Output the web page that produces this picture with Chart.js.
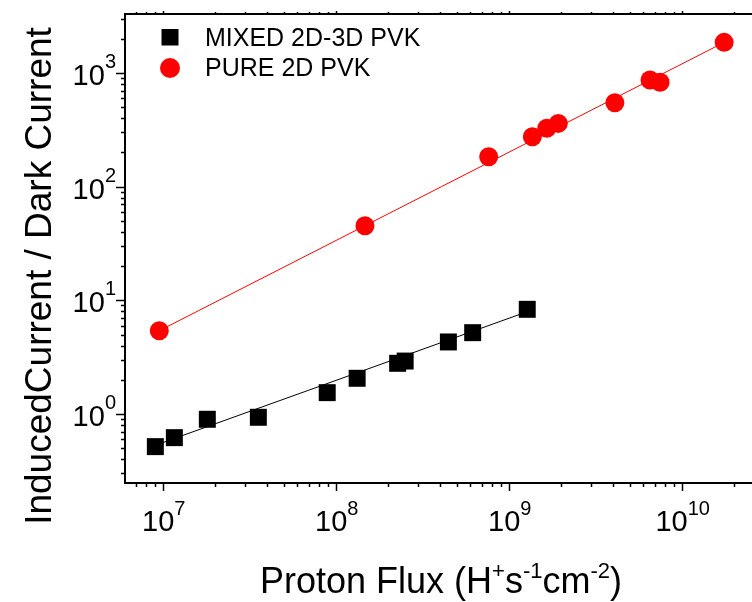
<!DOCTYPE html>
<html><head><meta charset="utf-8">
<script src="https://cdn.jsdelivr.net/npm/chart.js@4/dist/chart.umd.min.js"></script>
<style>html,body{margin:0;padding:0;background:#fff;overflow:hidden}#wrap{width:752px;height:602px;position:relative}</style>
</head><body><div id="wrap"><canvas id="c" width="752" height="602"></canvas></div>
<script>
// ---- data ----
const seriesNames = ['MIXED 2D-3D PVK', 'PURE 2D PVK'];
const mixedFlux  = [9.06e6, 1.167e7, 1.81e7, 3.57e7, 8.93e7, 1.33e8, 2.28e8, 2.52e8, 4.48e8, 6.19e8, 1.28e9];
const mixedRatio = [0.516, 0.619, 0.898, 0.935, 1.54, 2.06, 2.79, 2.92, 4.30, 5.19, 8.33];
const pureFlux   = [9.55e6, 1.476e8, 7.66e8, 1.37e9, 1.66e9, 1.935e9, 4.11e9, 6.56e9, 7.5e9, 1.76e10];
const pureRatio  = [5.4, 45.3, 183, 275, 326, 360, 547, 866, 827, 1858];
const mixedFitFlux  = [9.06e6, 1.28e9];
const mixedFitRatio = [0.53, 7.94];
const pureFitFlux   = [9.55e6, 1.76e10];
const pureFitRatio  = [5.4, 1858];
const xTickExponents = [7, 8, 9, 10];
const yTickExponents = [0, 1, 2, 3];
const xRange = [6.05e6, 2.55e10];
const yRange = [0.247, 3300];
const xTitle = [['Proton Flux (H', false], ['+', true], ['s', false], ['-1', true], ['cm', false], ['-2', true], [')', false]];
const yTitle = 'InducedCurrent / Dark Current';

const FONT = '"Liberation Sans", Arial, sans-serif';
const pts = (xs, ys) => xs.map((x, i) => ({x: x, y: ys[i]}));

function drawRich(ctx, segs, x, y, align, baseSize, supSize, rise) {
  let total = 0;
  const widths = segs.map(s => { ctx.font = (s[1] ? supSize : baseSize) + 'px ' + FONT; const w = ctx.measureText(s[0]).width; total += w; return w; });
  let cx = align === 'center' ? x - total / 2 : align === 'right' ? x - total : x;
  ctx.textAlign = 'left'; ctx.textBaseline = 'alphabetic';
  segs.forEach((s, i) => {
    ctx.font = (s[1] ? supSize : baseSize) + 'px ' + FONT;
    ctx.fillText(s[0], cx, s[1] ? y - rise : y);
    cx += widths[i];
  });
}

const framePlugin = {
  id: 'frame',
  afterDraw(chart) {
    const ctx = chart.ctx, a = chart.chartArea, xs = chart.scales.x, ys = chart.scales.y;
    ctx.save();
    ctx.strokeStyle = '#000'; ctx.fillStyle = '#000';
    ctx.lineWidth = 2;
    ctx.beginPath();
    ctx.moveTo(a.right + 2, a.top); ctx.lineTo(a.left, a.top); ctx.lineTo(a.left, a.bottom); ctx.lineTo(a.right + 2, a.bottom);
    ctx.stroke();
    // ticks
    ctx.lineWidth = 1.5;
    ctx.beginPath();
    for (let e = 6; e <= 10; e++) {
      for (let m = 1; m <= 9; m++) {
        const v = m * Math.pow(10, e);
        if (v < xRange[0] || v > xRange[1]) continue;
        const px = Math.round(xs.getPixelForValue(v)) + 0.5;
        const len = m === 1 ? 8 : 4;
        ctx.moveTo(px, a.bottom); ctx.lineTo(px, a.bottom + len);
        ctx.moveTo(px, a.top); ctx.lineTo(px, a.top - (m === 1 ? 3 : 2));
      }
    }
    for (let e = -1; e <= 3; e++) {
      for (let m = 1; m <= 9; m++) {
        const v = m * Math.pow(10, e);
        if (v < yRange[0] || v > yRange[1]) continue;
        const py = Math.round(ys.getPixelForValue(v)) + 0.5;
        const len = m === 1 ? 9 : 4;
        ctx.moveTo(a.left, py); ctx.lineTo(a.left - len, py);
      }
    }
    ctx.stroke();
    // tick labels
    xTickExponents.forEach(e => {
      const px = xs.getPixelForValue(Math.pow(10, e));
      drawRich(ctx, [['10', false], [String(e), true]], px + 1, a.bottom + 48, 'center', 29, 20, 16);
    });
    yTickExponents.forEach(e => {
      const py = ys.getPixelForValue(Math.pow(10, e));
      drawRich(ctx, [['10', false], [String(e), true]], a.left - 9, py + 12, 'right', 29, 20, 17);
    });
    // axis titles
    drawRich(ctx, xTitle, 441, 593, 'center', 36, 22, 15);
    ctx.save();
    ctx.translate(51, 276);
    ctx.rotate(-Math.PI / 2);
    ctx.font = '37px ' + FONT; ctx.textAlign = 'center'; ctx.textBaseline = 'alphabetic';
    ctx.fillText(yTitle, 0, 0);
    ctx.restore();
    // legend
    ctx.fillStyle = '#000';
    ctx.fillRect(161.5, 29, 17, 16.5);
    ctx.fillStyle = '#ff0000';
    ctx.beginPath(); ctx.arc(170, 68, 10, 0, Math.PI * 2); ctx.fill();
    ctx.fillStyle = '#000';
    ctx.font = '25px ' + FONT; ctx.textAlign = 'left'; ctx.textBaseline = 'alphabetic';
    ctx.fillText(seriesNames[0], 205, 45.5);
    ctx.fillText(seriesNames[1], 205, 76);
    ctx.restore();
  }
};

new Chart(document.getElementById('c'), {
  type: 'scatter',
  data: {
    datasets: [
      {label: seriesNames[0] + ' fit', data: pts(mixedFitFlux, mixedFitRatio), showLine: true, pointRadius: 0, borderColor: '#000', borderWidth: 1, order: 2},
      {label: seriesNames[1] + ' fit', data: pts(pureFitFlux, pureFitRatio), showLine: true, pointRadius: 0, borderColor: '#ff0000', borderWidth: 1, order: 2},
      {label: seriesNames[0], data: pts(mixedFlux, mixedRatio), pointStyle: 'rect', pointRadius: 12, backgroundColor: '#000', borderColor: '#000', borderWidth: 0, order: 1},
      {label: seriesNames[1], data: pts(pureFlux, pureRatio), pointStyle: 'circle', pointRadius: 9.5, backgroundColor: '#ff0000', borderColor: '#ff0000', borderWidth: 0, order: 1}
    ]
  },
  options: {
    responsive: false,
    animation: false,
    devicePixelRatio: 1,
    layout: {autoPadding: false, padding: {left: 125, top: 14, right: 0, bottom: 119}},
    plugins: {legend: {display: false}, tooltip: {enabled: false}},
    scales: {
      x: {type: 'logarithmic', min: xRange[0], max: xRange[1], display: false},
      y: {type: 'logarithmic', min: yRange[0], max: yRange[1], display: false}
    }
  },
  plugins: [framePlugin]
});
</script>
</body></html>
